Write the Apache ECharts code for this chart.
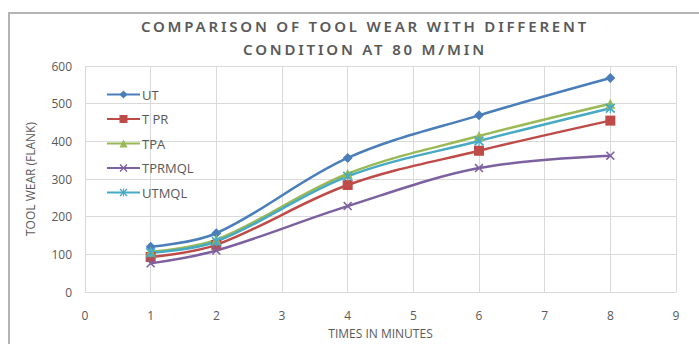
<!DOCTYPE html>
<html>
<head>
<meta charset="utf-8">
<script src="https://cdn.jsdelivr.net/npm/echarts@6/dist/echarts.min.js"></script>
<style>
html,body{margin:0;padding:0;background:#fff;}
#chart{width:699px;height:344px;}
/* 标题字间距 (只有标题用 Noto Sans) */
#chart text[style*="Noto Sans"]{letter-spacing:2.8px;}
</style>
</head>
<body>
<div id="chart"></div>
<script>
// times in minutes
let times=[1,2,4,6,8];
// tool wear values per condition
let utData=[120,156,356,469,568];
let tprData=[93,125,284,375,455];
let tpaData=[107,139,314,414,500];
let tprmqlData=[76,110,228,329,362];
let utmqlData=[104,134,307,401,488];

let seriesNames=["UT","T PR","TPA","TPRMQL","UTMQL"];
let seriesColors=["#4a7ebb","#be4b48","#98b954","#7d60a0","#46aac5"];

//X 和 星号 标记
let crossIcon="path://M0,1.2 L1.2,0 L10,8.8 L8.8,10 Z M8.8,0 L10,1.2 L1.2,10 L0,8.8 Z";
let starIcon="path://M0,1.2 L1.2,0 L10,8.8 L8.8,10 Z M8.8,0 L10,1.2 L1.2,10 L0,8.8 Z M4.4,0 L5.6,0 L5.6,10 L4.4,10 Z";
let symbols=["diamond","rect",'triangle',crossIcon,starIcon];
let symbolSizes=[10,10,10,9,10];

function pairs(arr){
	return arr.map(function(v,i){return [times[i],v];});
}

let chart=echarts.init(document.getElementById("chart"),null,{renderer:"svg"});
let allData=[utData,tprData,tpaData,tprmqlData,utmqlData];
let series=allData.map(function(d,i){
	return {
		name:seriesNames[i],
		type:"line",
		smooth:0.35,
		data:pairs(d),
		symbol:symbols[i],
		symbolSize:symbolSizes[i],
		showAllSymbol:true,
		lineStyle:{color:seriesColors[i],width:2.5},
		itemStyle:{color:seriesColors[i]}
	};
});

let option={
	animation:false,
	textStyle:{fontFamily:"Open Sans"},
	graphic:[{
		type:"rect",
		shape:{x:9,y:13,width:800,height:400},
		style:{fill:"none",stroke:"#b4b4b4",lineWidth:2},
		silent:true
	}],
	title:{
		text:"COMPARISON OF TOOL WEAR WITH DIFFERENT\nCONDITION AT 80 M/MIN",
		left:360,
		textAlign:"center",
		top:9,
		textStyle:{fontFamily:"Noto Sans",fontWeight:600,fontSize:15,color:"#595959",lineHeight:23}
	},
	legend:{
		orient:"vertical",
		left:101,
		top:83,
		itemWidth:33,
		itemHeight:10,
		itemGap:11.5,
		textStyle:{color:"#595959",fontSize:13,padding:[0,0,0,-3]},
		data:seriesNames
	},
	grid:{left:85,right:23,top:66,bottom:50,containLabel:false},
	xAxis:{
		type:"value",
		min:0,max:9,interval:1,
		name:"TIMES IN MINUTES",
		nameLocation:"middle",
		nameGap:35,
		nameTextStyle:{color:"#595959",fontSize:12},
		axisLine:{show:false},
		axisTick:{show:false},
		axisLabel:{color:"#595959",fontSize:12,margin:17},
		splitLine:{show:true,lineStyle:{color:"#d9d9d9",width:1}}
	},
	yAxis:{
		type:"value",
		min:0,max:600,interval:100,
		name:"TOOL WEAR (FLANK)",
		nameLocation:"middle",
		nameGap:49,
		nameTextStyle:{color:"#595959",fontSize:12},
		axisLine:{show:false},
		axisTick:{show:false},
		axisLabel:{color:"#595959",fontSize:12,margin:13},
		splitLine:{show:true,lineStyle:{color:"#d9d9d9",width:1}}
	},
	series:series
};
chart.setOption(option);
</script>
</body>
</html>
